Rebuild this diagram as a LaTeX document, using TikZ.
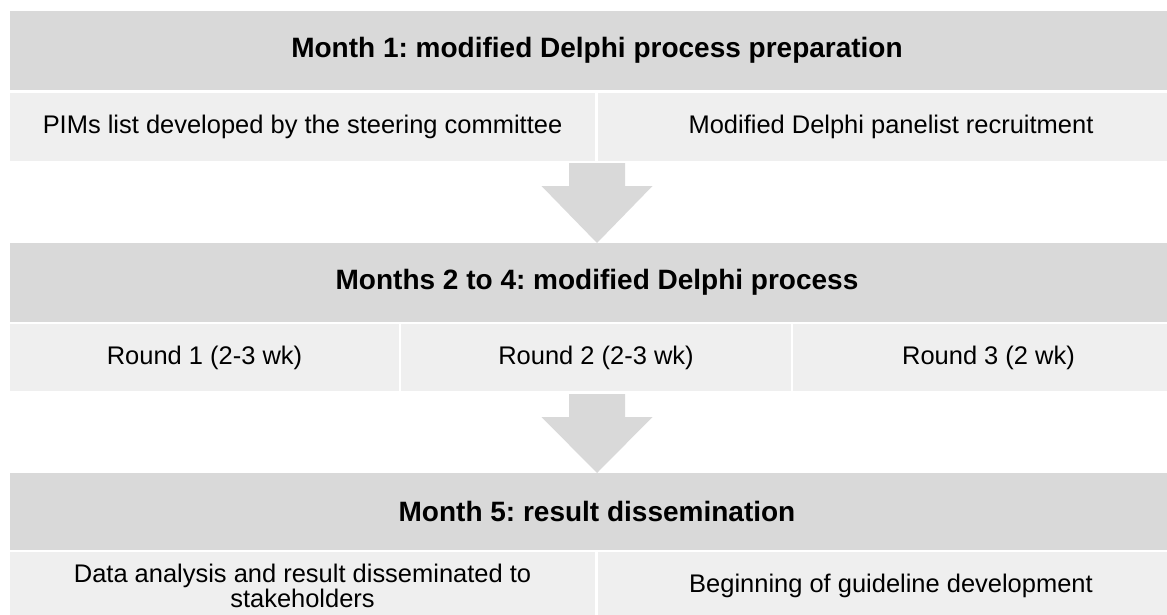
\documentclass[tikz,border=0pt]{standalone}
\usepackage{fontspec}
\setmainfont{Liberation Sans}
\definecolor{hdrgray}{HTML}{D9D9D9}
\definecolor{cellgray}{HTML}{EFEFEF}
\frenchspacing
\begin{document}
\begin{tikzpicture}[x=0.75pt,y=-0.75pt,
  hdr/.style={fill=hdrgray, inner sep=0pt, outer sep=0pt, anchor=north west,
    font=\fontsize{21}{25}\selectfont\bfseries},
  cell/.style={fill=cellgray, inner sep=0pt, outer sep=0pt, anchor=north west, align=center,
    font=\fontsize{19.1}{18.75}\selectfont},
  flow/.style={fill=hdrgray}]
\useasboundingbox (0,0) rectangle (1167,614);
\clip (0,0) rectangle (1167,614);
\fill[white] (0,0) rectangle (1167,614);

% Stage 1
\node[hdr, minimum width=880.5pt, minimum height=59.25pt] (h1) at (10,11)
  {Month 1: modified Delphi process preparation};
\node[cell, minimum width=438.75pt, minimum height=51pt] (c11) at (10,93)
  {PIMs list developed by the steering committee};
\node[cell, minimum width=439.5pt, minimum height=51pt] (c12) at (598,93)
  {Modified Delphi panelist recruitment};

% Stage 2
\node[hdr, minimum width=880.5pt, minimum height=59.25pt] (h2) at (10,243)
  {Months 2 to 4: modified Delphi process};
\node[cell, minimum width=291.75pt, minimum height=50.25pt] (c21) at (10,324)
  {Round 1 (2-3 wk)};
\node[cell, minimum width=292.5pt, minimum height=50.25pt] (c22) at (401,324)
  {Round 2 (2-3 wk)};
\node[cell, minimum width=293.25pt, minimum height=50.25pt] (c23) at (793,324)
  {Round 3 (2 wk)};

% Stage 3
\node[hdr, minimum width=880.5pt, minimum height=57.75pt] (h3) at (10,473)
  {Month 5: result dissemination};
\node[cell, minimum width=438.75pt, minimum height=51pt] (c31) at (10,552)
  {Data analysis and result disseminated to\\stakeholders};
\node[cell, minimum width=439.5pt, minimum height=51pt] (c32) at (598,552)
  {Beginning of guideline development};

% Arrows
\coordinate (t1) at (h2.north);
\fill[flow] (t1) -- ++(-55.5,-57) -- ++(27.5,0) -- ++(0,-23) -- ++(56,0)
  -- ++(0,23) -- ++(27.5,0) -- cycle;
\coordinate (t2) at (h3.north);
\fill[flow] (t2) -- ++(-55.5,-56) -- ++(27.5,0) -- ++(0,-23) -- ++(56,0)
  -- ++(0,23) -- ++(27.5,0) -- cycle;
\end{tikzpicture}
\end{document}
